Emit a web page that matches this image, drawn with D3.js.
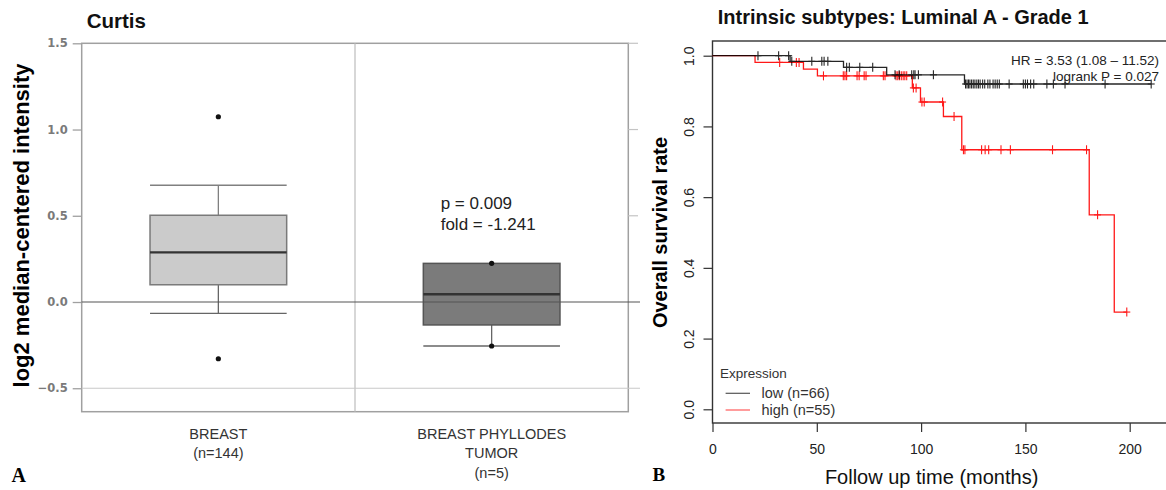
<!DOCTYPE html>
<html><head><meta charset="utf-8">
<script src="https://cdn.jsdelivr.net/npm/d3@7"></script>
<style>body{margin:0;background:#fff;} svg{display:block;}</style>
</head><body>
<svg id="c" width="1166" height="490"></svg>
<script>
// ---------- Panel A data (box plot) ----------
const boxCategories = ["BREAST", "BREAST PHYLLODES TUMOR"];
const boxLabelLines = [["BREAST", "(n=144)"], ["BREAST PHYLLODES", "TUMOR", "(n=5)"]];
const boxQ1 = [0.100, -0.133];
const boxMedian = [0.288, 0.045];
const boxQ3 = [0.503, 0.224];
const whiskerLow = [-0.066, -0.255];
const whiskerHigh = [0.677, 0.224];
const boxPoints = [[1.074, -0.329], [0.224, -0.255]];
const boxFills = ["#cbcbcb", "#7b7b7b"];
const boxYTicks = [-0.5, 0.0, 0.5, 1.0, 1.5];
const statLines = ["p = 0.009", "fold = -1.241"];

// ---------- Panel B data (Kaplan-Meier) ----------
const kmGroups = ["low (n=66)", "high (n=55)"];
const kmColors = ["#000000", "#ff0000"];
const lowEventTimes = [0, 37.2, 62.8, 83.5, 120.8];
const lowSurvival = [1, 0.984, 0.967, 0.946, 0.920];
const lowEnd = 210.3;
const lowCensor = [21.8, 31.7, 36.5, 38.0, 47.6, 52.4, 53.5, 55.3, 64.3, 65.6, 70.6, 76.8,
  87.5, 89.5, 95.5, 96.5, 97.1, 98.7, 105.9,
  121.3, 122.0, 122.7, 123.4, 124.2, 125.0, 125.8, 126.7, 127.5, 128.3, 129.5, 130.5, 132.0, 133.0,
  134.5, 135.5, 136.5, 137.5, 142.2, 149.0, 150.0, 151.0, 152.5, 154.0, 160.3, 163.4, 169.0, 188.2, 210.3];
const highEventTimes = [0, 20.4, 43.6, 50.3, 95.8, 99.7, 110.7, 119.5, 180.6, 192.6];
const highSurvival = [1, 0.981, 0.962, 0.943, 0.909, 0.869, 0.828, 0.734, 0.550, 0.275];
const highEnd = 198.6;
const highCensor = [32.2, 40.2, 41.5, 53.2, 62.7, 63.5, 64.3, 69.3, 70.3, 72.7, 73.6, 81.9, 82.7,
  88.0, 88.8, 89.6, 90.5, 91.4, 92.2, 93.1, 96.3, 97.6, 100.4, 101.5, 110.3, 115.8,
  120.3, 121.0, 129.0, 130.7, 132.4, 138.3, 142.8, 163.0, 179.3, 184.6, 198.6];
const kmXTicks = [0, 50, 100, 150, 200];
const kmYTicks = [0, 0.2, 0.4, 0.6, 0.8, 1.0];
const statsText = ["HR = 3.53 (1.08 \u2013 11.52)", "logrank P = 0.027"];

const svg = d3.select("#c");
const SANS = "'Liberation Sans', Arial, Helvetica, sans-serif";
const SERIF = "'Liberation Serif', 'Times New Roman', serif";

// =============== Panel A ===============
const A = svg.append("g");
const ay = d3.scaleLinear().domain([-0.636, 1.5]).range([411.7, 43.3]);
const ax = d3.scaleBand().domain(boxCategories).range([81.7, 628.3]);
const bw = ax.bandwidth() * 0.5;
const cx = c => ax(c) + ax.bandwidth() / 2;

// frame
A.append("rect").attr("x", 81.7).attr("y", ay(1.5)).attr("width", 628.3 - 81.7)
  .attr("height", ay(-0.636) - ay(1.5)).attr("fill", "none").attr("stroke", "#a0a0a0").attr("stroke-width", 1.5);
// divider
A.append("line").attr("x1", 355).attr("x2", 355).attr("y1", ay(1.5)).attr("y2", ay(-0.636))
  .attr("stroke", "#bdbdbd").attr("stroke-width", 1.2);
// right-side ticks
A.selectAll(".rt").data(boxYTicks.filter(d => d > 0)).enter().append("line")
  .attr("x1", 628.3).attr("x2", 638).attr("y1", d => ay(d)).attr("y2", d => ay(d))
  .attr("stroke", "#c4c4c4").attr("stroke-width", 1.2);
// -0.5 gridline
A.append("line").attr("x1", 81.7).attr("x2", 640).attr("y1", ay(-0.5)).attr("y2", ay(-0.5))
  .attr("stroke", "#c8c8c8").attr("stroke-width", 1.2);

// left axis
const aAxis = A.append("g").attr("transform", "translate(81.7,0)")
  .call(d3.axisLeft(ay).tickValues(boxYTicks).tickFormat(d3.format(".1f")).tickSize(9).tickPadding(5));
aAxis.select(".domain").remove();
aAxis.selectAll(".tick line").attr("stroke", "#a0a0a0").attr("stroke-width", 1.3);
aAxis.selectAll(".tick text").attr("fill", "#7a7a7a").attr("font-family", "'DejaVu Sans', sans-serif")
  .attr("font-weight", "bold").attr("font-size", 11.5);

// boxes
boxCategories.forEach((c, i) => {
  const x0 = cx(c) - bw / 2, x1 = cx(c) + bw / 2, xc = cx(c);
  if (whiskerHigh[i] > boxQ3[i]) {
    A.append("line").attr("x1", xc).attr("x2", xc).attr("y1", ay(boxQ3[i])).attr("y2", ay(whiskerHigh[i]))
      .attr("stroke", "#808080").attr("stroke-width", 1.3);
    A.append("line").attr("x1", x0).attr("x2", x1).attr("y1", ay(whiskerHigh[i])).attr("y2", ay(whiskerHigh[i]))
      .attr("stroke", "#808080").attr("stroke-width", 1.3);
  }
  A.append("line").attr("x1", xc).attr("x2", xc).attr("y1", ay(boxQ1[i])).attr("y2", ay(whiskerLow[i]))
    .attr("stroke", "#666").attr("stroke-width", 1.3);
  A.append("line").attr("x1", x0).attr("x2", x1).attr("y1", ay(whiskerLow[i])).attr("y2", ay(whiskerLow[i]))
    .attr("stroke", "#666").attr("stroke-width", 1.3);
  A.append("rect").attr("x", x0).attr("width", bw).attr("y", ay(boxQ3[i]))
    .attr("height", ay(boxQ1[i]) - ay(boxQ3[i])).attr("fill", boxFills[i])
    .attr("stroke", i === 0 ? "#7a7a7a" : "#555").attr("stroke-width", 1.5);
  A.append("line").attr("x1", x0).attr("x2", x1).attr("y1", ay(boxMedian[i])).attr("y2", ay(boxMedian[i]))
    .attr("stroke", "#333").attr("stroke-width", 2.4);
  boxPoints[i].forEach(v => {
    A.append("circle").attr("cx", xc).attr("cy", ay(v)).attr("r", 2.6).attr("fill", "#111");
  });
});
// zero line (on top)
A.append("line").attr("x1", 81.7).attr("x2", 640).attr("y1", ay(0)).attr("y2", ay(0))
  .attr("stroke", "#555").attr("stroke-width", 1.2);

// stats text
statLines.forEach((t, i) => {
  A.append("text").attr("x", 440.7).attr("y", 208.8 + i * 21.6).text(t)
    .attr("font-family", SANS).attr("font-size", 17).attr("fill", "#222");
});
// category labels
boxCategories.forEach((c, i) => {
  boxLabelLines[i].forEach((t, j) => {
    A.append("text").attr("x", cx(c)).attr("y", 439 + j * 19.4).attr("text-anchor", "middle").text(t)
      .attr("font-family", SANS).attr("font-size", 14.5).attr("fill", "#333");
  });
});
// title, y-label, panel letter
A.append("text").attr("x", 86.7).attr("y", 27.8).text("Curtis")
  .attr("font-family", SANS).attr("font-weight", "bold").attr("font-size", 20.5).attr("fill", "#111");
A.append("text").attr("transform", "translate(29,225.5) rotate(-90)").attr("text-anchor", "middle")
  .text("log2 median-centered intensity").attr("font-family", SANS).attr("font-weight", "bold")
  .attr("font-size", 22).attr("fill", "#000");
A.append("text").attr("x", 11.5).attr("y", 482).text("A").attr("font-family", SERIF)
  .attr("font-weight", "bold").attr("font-size", 20).attr("fill", "#000");

// =============== Panel B ===============
const B = svg.append("g");
const bx = d3.scaleLinear().domain([0, 200]).range([712.5, 1129.7]);
const by = d3.scaleLinear().domain([0, 1]).range([409.3, 55.7]);

// frame
B.append("rect").attr("x", bx(0)).attr("y", 41).attr("width", 1170 - bx(0)).attr("height", 423 - 41)
  .attr("fill", "none").attr("stroke", "#333").attr("stroke-width", 1.4);

// axes
const bxAxis = B.append("g").attr("transform", "translate(0,423)")
  .call(d3.axisBottom(bx).tickValues(kmXTicks).tickSize(9).tickPadding(12));
bxAxis.select(".domain").remove();
bxAxis.selectAll(".tick line").attr("stroke", "#333").attr("stroke-width", 1.2);
bxAxis.selectAll(".tick text").attr("font-family", SANS).attr("font-size", 14).attr("fill", "#222");

const byAxis = B.append("g").attr("transform", `translate(${bx(0)},0)`)
  .call(d3.axisLeft(by).tickValues(kmYTicks).tickFormat(d3.format(".1f")).tickSize(9));
byAxis.select(".domain").remove();
byAxis.selectAll(".tick line").attr("stroke", "#333").attr("stroke-width", 1.2);
byAxis.selectAll(".tick text").attr("font-family", SANS).attr("font-size", 14).attr("fill", "#222")
  .attr("x", 0).attr("dy", 0).attr("text-anchor", "middle")
  .attr("transform", "translate(-18.8,0) rotate(-90)");

// curves
const stepLine = d3.line().x(d => bx(d[0])).y(d => by(d[1])).curve(d3.curveStepAfter);
function stepValue(times, surv, t) {
  let s = surv[0];
  for (let i = 0; i < times.length; i++) if (times[i] <= t) s = surv[i];
  return s;
}
const groups = [
  { times: lowEventTimes, surv: lowSurvival, end: lowEnd, cens: lowCensor },
  { times: highEventTimes, surv: highSurvival, end: highEnd, cens: highCensor }
];
[1, 0].forEach(gi => {
  const g = groups[gi];
  const pts = g.times.map((t, i) => [t, g.surv[i]]).concat([[g.end, g.surv[g.surv.length - 1]]]);
  const gg = B.append("g").attr("opacity", gi === 0 ? 0.85 : 0.9);
  gg.append("path").attr("d", stepLine(pts)).attr("fill", "none").attr("stroke", kmColors[gi])
    .attr("stroke-width", 1.3);
  g.cens.forEach(t => {
    const X = bx(t), Y = by(stepValue(g.times, g.surv, t));
    gg.append("line").attr("x1", X).attr("x2", X).attr("y1", Y - 4.5).attr("y2", Y + 4.5)
      .attr("stroke", kmColors[gi]).attr("stroke-width", 1.1);
    gg.append("line").attr("x1", X - 3.5).attr("x2", X + 3.5).attr("y1", Y).attr("y2", Y)
      .attr("stroke", kmColors[gi]).attr("stroke-width", 1.1);
  });
});

// stats
statsText.forEach((t, i) => {
  B.append("text").attr("x", 1159).attr("y", 64.5 + i * 16.5).attr("text-anchor", "end").text(t)
    .attr("font-family", SANS).attr("font-size", 13.5).attr("fill", "#222");
});

// legend
B.append("text").attr("x", 720).attr("y", 378).text("Expression")
  .attr("font-family", SANS).attr("font-size", 13.5).attr("fill", "#333");
kmGroups.forEach((g, i) => {
  const yy = 393.3 + i * 16.7;
  B.append("line").attr("x1", 725.6).attr("x2", 750).attr("y1", yy).attr("y2", yy)
    .attr("stroke", i === 0 ? "#555" : "#ff5a5a").attr("stroke-width", 1.2);
  B.append("text").attr("x", 761.5).attr("y", yy + 5).text(g)
    .attr("font-family", SANS).attr("font-size", 14.5).attr("fill", "#333");
});

// titles
B.append("text").attr("x", 717.8).attr("y", 24).text("Intrinsic subtypes: Luminal A - Grade 1")
  .attr("font-family", SANS).attr("font-weight", "bold").attr("font-size", 20).attr("fill", "#111");
B.append("text").attr("transform", "translate(666.5,232.5) rotate(-90)").attr("text-anchor", "middle")
  .text("Overall survival rate").attr("font-family", SANS).attr("font-weight", "bold")
  .attr("font-size", 20).attr("fill", "#000");
B.append("text").attr("x", 931.6).attr("y", 483.5).attr("text-anchor", "middle")
  .text("Follow up time (months)").attr("font-family", SANS).attr("font-size", 20).attr("fill", "#111");
B.append("text").attr("x", 652.5).attr("y", 480.5).text("B").attr("font-family", SERIF)
  .attr("font-weight", "bold").attr("font-size", 19).attr("fill", "#000");
</script>
</body></html>
